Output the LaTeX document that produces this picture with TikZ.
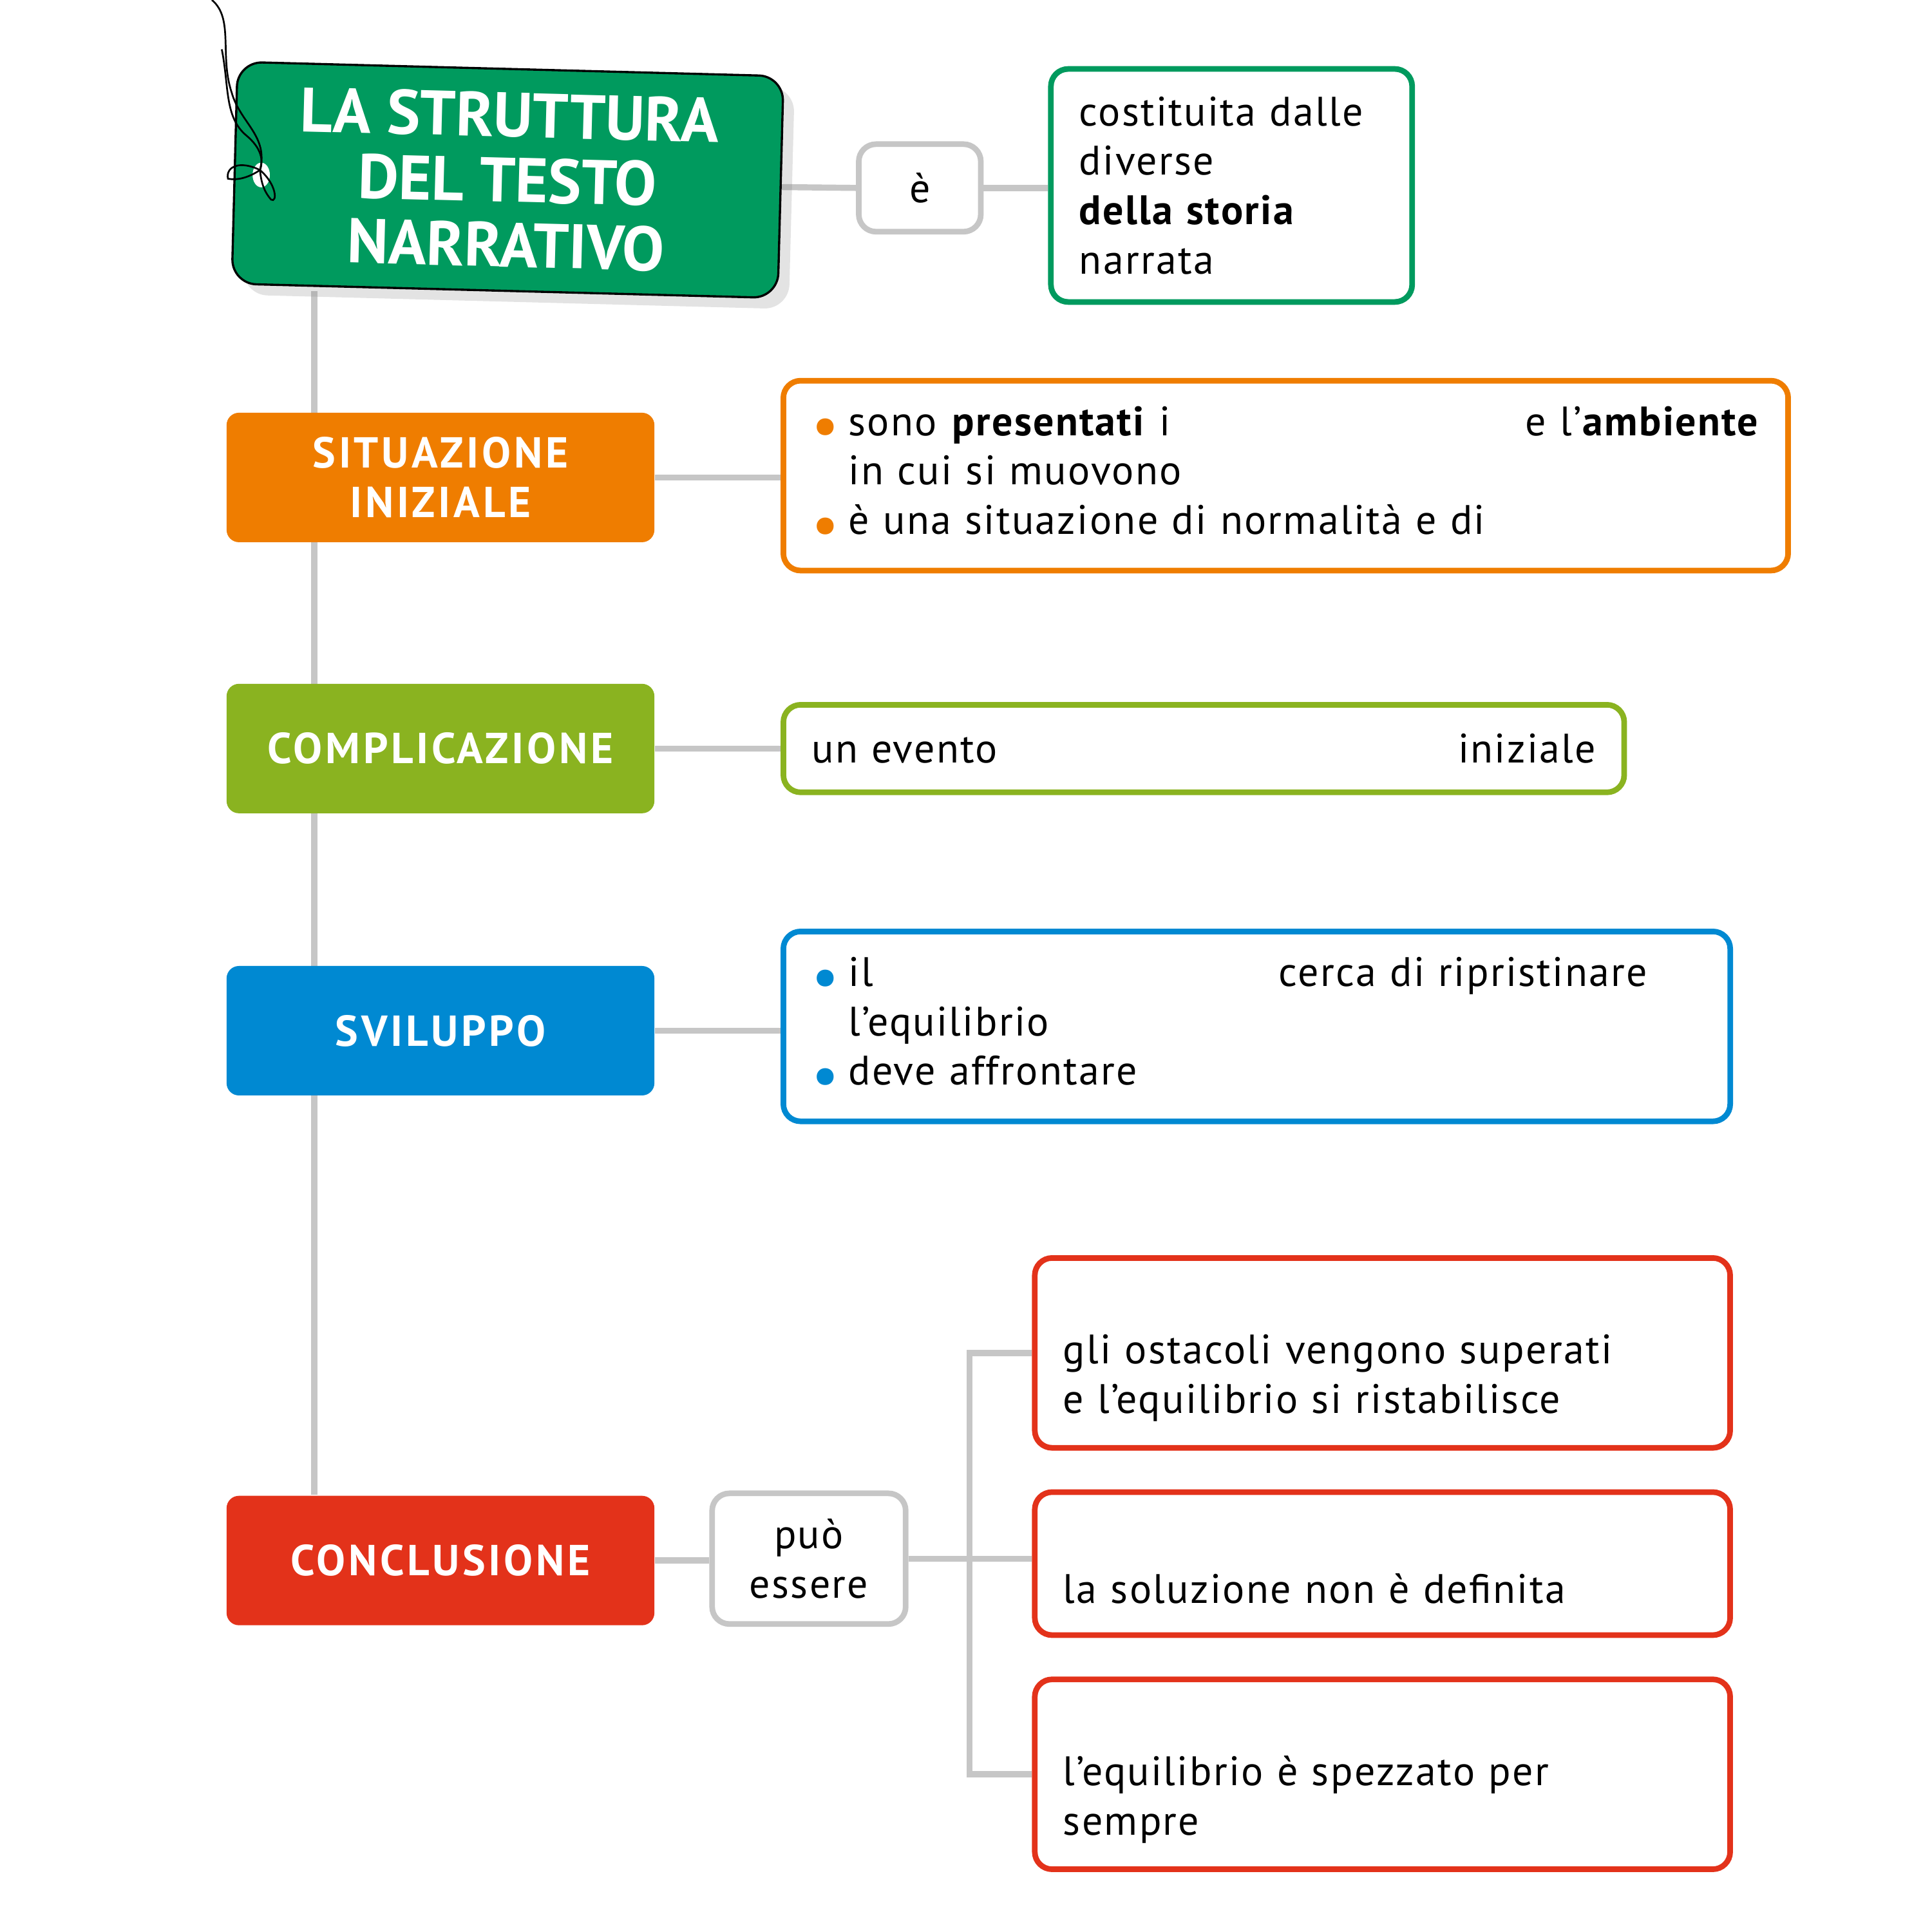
\documentclass[tikz,border=0pt]{standalone}
\usepackage{fontspec}
\setmainfont{PT Sans}
\newfontfamily\bodyfont{PT Sans}[LetterSpace=3.6]
\newfontfamily\labelfont{PT Sans}[LetterSpace=7]
\usetikzlibrary{shadows,backgrounds}
\definecolor{tagg}{HTML}{009A5E}
\definecolor{sitc}{HTML}{EF7D00}
\definecolor{compc}{HTML}{8AB320}
\definecolor{svic}{HTML}{0089D2}
\definecolor{conc}{HTML}{E3321A}
\definecolor{linec}{HTML}{C6C6C6}
\newcommand{\gapfill}{\hskip 0pt plus 1filll\relax}
\newcommand{\dotitem}[1]{\makebox[3mm][l]{\raisebox{-2.5pt}{\textcolor{#1}{\fontsize{14}{11.4}\selectfont\textbullet}}}}
\tikzset{
  conn/.style={linec, line width=1.4pt},
  string/.style={black, line width=0.4pt},
  phase/.style={fill=#1, rounded corners=1mm, minimum width=3.47cm,
    minimum height=1.05cm, text=white, align=center, inner sep=0pt,
    font=\labelfont\fontsize{10}{11.4}\selectfont\bfseries},
  infobox/.style={draw=#1, line width=1.3pt, rounded corners=1.4mm,
    fill=white, align=left, inner xsep=2.3mm, inner ysep=0pt,
    font=\bodyfont\fontsize{9.5}{11.4}\selectfont},
  verb/.style={draw=linec, line width=1.3pt, rounded corners=1.4mm,
    fill=white, align=center, inner sep=0pt,
    font=\bodyfont\fontsize{9.5}{11.4}\selectfont},
}
\begin{document}
\begin{tikzpicture}[x=0.01cm,y=-0.01cm]
  \useasboundingbox (0,0) rectangle (1568,1568);
  % title tag
  \node[fill=tagg, draw=black, line width=0.5pt, rounded corners=2mm,
    rotate=-1.5, minimum width=4.43cm, minimum height=1.8cm,
    text=white, align=center, font=\fontsize{14.5}{15}\selectfont\bfseries,
    drop shadow={opacity=0.22, shadow xshift=0.9mm, shadow yshift=-0.9mm}]
    (tag) at (412,146) {LA STRUTTURA\\DEL TESTO\\NARRATIVO};
  \fill[white] (212,142) ellipse [x radius=0.7mm, y radius=1mm];
  \draw[string] (172,0) .. controls (190,15) and (178,45) .. (188,75)
    .. controls (195,100) and (218,110) .. (211,138);
  \draw[string] (180,40) .. controls (186,70) and (182,95) .. (200,110)
    .. controls (212,120) and (214,130) .. (211,138);
  \draw[string] (211,138) .. controls (195,130) and (183,135) .. (185,145)
    .. controls (195,147) and (205,142) .. (211,138);
  \draw[string] (211,138) .. controls (225,150) and (225,165) .. (220,162)
    .. controls (214,155) and (212,148) .. (211,138);

  \node[verb, minimum width=0.99cm, minimum height=0.71cm] (e) at (746.5,152.5) {è};
  \node[infobox=tagg, minimum width=2.93cm, minimum height=1.89cm, text width=2.47cm]
    (storia) at (999.5,150.5)
    {costituita dalle\\diverse\\\textbf{della storia}\\narrata};

  % phases
  \node[phase=sitc] (sitin) at (357.5,387.5) {SITUAZIONE\\INIZIALE};
  \node[phase=compc] (compl) at (357.5,607.5) {COMPLICAZIONE};
  \node[phase=svic] (svil) at (357.5,836.5) {SVILUPPO};
  \node[phase=conc] (concl) at (357.5,1266.5) {CONCLUSIONE};

  \node[infobox=sitc, minimum width=8.15cm, minimum height=1.54cm, text width=7.69cm]
    (sitbox) at (1043.5,386)
    {\dotitem{sitc}sono \textbf{presentati} i\gapfill e l’\textbf{ambiente}\\
     \hspace*{3mm}in cui si muovono\\
     \dotitem{sitc}è una situazione di normalità e di};
  \node[infobox=compc, minimum width=6.82cm, minimum height=0.71cm, text width=6.36cm]
    (complbox) at (977,607.5) {un evento\gapfill iniziale};
  \node[infobox=svic, minimum width=7.68cm, minimum height=1.54cm, text width=7.22cm]
    (svilbox) at (1020,833)
    {\dotitem{svic}\makebox[3.49cm][l]{il}cerca di ripristinare\\
     \hspace*{3mm}l’equilibrio\\
     \dotitem{svic}deve affrontare};

  \node[verb, minimum width=1.57cm, minimum height=1.06cm] (puo) at (656.5,1265) {può\\essere};
  \node[infobox=conc, minimum width=5.64cm, minimum height=1.54cm, text width=5.18cm]
    (fin1) at (1122,1098)
    {\leavevmode\\[7pt]gli ostacoli vengono superati\\e l’equilibrio si ristabilisce};
  \node[infobox=conc, minimum width=5.64cm, minimum height=1.16cm, text width=5.18cm]
    (fin2) at (1122,1269)
    {\leavevmode\\[7pt]la soluzione non è definita};
  \node[infobox=conc, minimum width=5.64cm, minimum height=1.54cm, text width=5.18cm]
    (fin3) at (1122,1440)
    {\leavevmode\\[7pt]l’equilibrio è spezzato per\\sempre};

  \coordinate (spine) at (255,236);
  \coordinate (branch) at (787,1266);
  \begin{scope}[on background layer]
    \draw[conn] (spine) -- (spine |- concl.north);
    \draw[conn] (tag.east) -- (e.west);
    \draw[conn] (e.east) -- (e.east -| storia.west);
    \draw[conn] (sitin.east) -- (sitin.east -| sitbox.west);
    \draw[conn] (compl.east) -- (compl.east -| complbox.west);
    \draw[conn] (svil.east) -- (svil.east -| svilbox.west);
    \draw[conn] (concl.east) -- (concl.east -| puo.west);
    \draw[conn] (puo.east) -- (puo.east -| fin2.west);
    \draw[conn] (fin1.west) -| (branch) |- (fin3.west);
  \end{scope}
\end{tikzpicture}
\end{document}
